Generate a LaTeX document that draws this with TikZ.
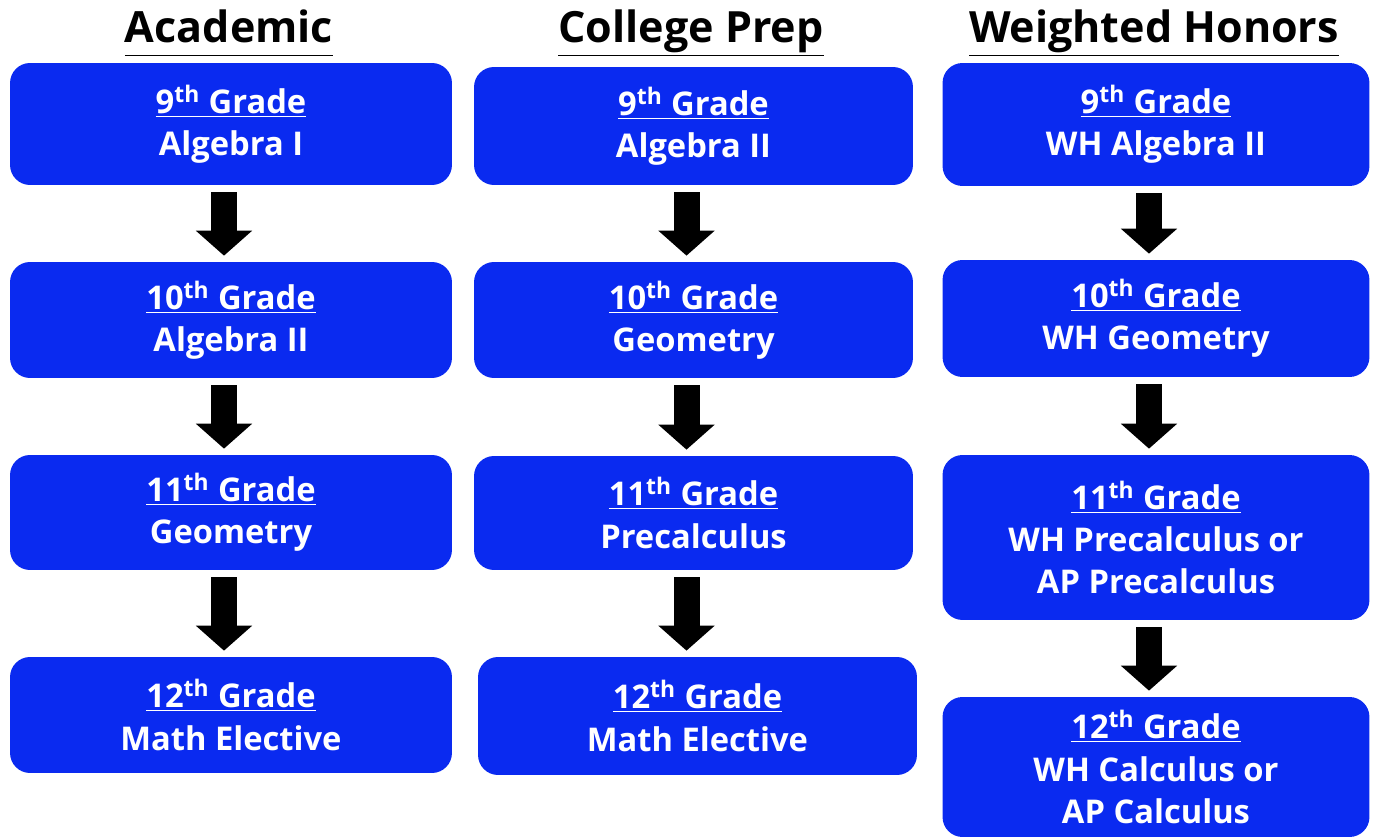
\documentclass[tikz,border=0pt]{standalone}
\usepackage{fontspec}
\setmainfont{Open Sans}
\usepackage{tikz}
\usetikzlibrary{arrows.meta}
\definecolor{trackblue}{RGB}{10,42,240}
\newcommand{\grade}[1]{\underline{#1\textsuperscript{th} Grade}}

\begin{document}
\begin{tikzpicture}[
  x=0.02cm, y=-0.02cm,
  track/.style={font=\fontsize{24.5}{29}\selectfont\bfseries, anchor=base, inner sep=0pt},
  course/.style={rounded corners=0.4cm, fill=trackblue, text=white, align=center, inner sep=0pt,
    font=\fontsize{18.6}{24}\selectfont\bfseries},
  acad/.style={course, minimum width=8.84cm},
  prep/.style={course, minimum width=8.78cm},
  honors/.style={course, minimum width=8.54cm},
  flow/.style={line width=0.52cm, -{Triangle[width=1.1cm,length=0.5cm]},
    shorten <=0.14cm, shorten >=0.12cm},
]
\useasboundingbox (0,0) rectangle (1374,837);

% Track headings
\node[track] (tA) at (229,43) {\underline{\vphantom{g}Academic}};
\node[track] (tP) at (691,43) {\underline{College Prep}};
\node[track] (tH) at (1154,43) {\underline{Weighted Honors}};

% Academic
\node[acad, minimum height=2.44cm] (a1) at (231,124) {\grade{9}\\Algebra I};
\node[acad, minimum height=2.32cm] (a2) at (231,320) {\grade{10}\\Algebra II};
\node[acad, minimum height=2.30cm] (a3) at (231,512.5) {\grade{11}\\Geometry};
\node[acad, minimum height=2.32cm] (a4) at (231,715) {\grade{12}\\Math Elective};

% College Prep
\node[prep, minimum height=2.36cm] (p1) at (693.5,126) {\grade{9}\\Algebra II};
\node[prep, minimum height=2.32cm] (p2) at (693.5,320) {\grade{10}\\Geometry};
\node[prep, minimum height=2.28cm] (p3) at (693.5,513) {\grade{11}\\Precalculus};
\node[prep, minimum height=2.36cm] (p4) at (697.5,716) {\grade{12}\\Math Elective};

% Weighted Honors
\node[honors, minimum height=2.46cm] (h1) at (1156,124.5) {\grade{9}\\WH Algebra II};
\node[honors, minimum height=2.34cm] (h2) at (1156,318.5) {\grade{10}\\WH Geometry};
\node[honors, minimum height=3.30cm] (h3) at (1156,537.5) {\grade{11}\\WH Precalculus or\\AP Precalculus};
\node[honors, minimum height=2.80cm] (h4) at (1156,767) {\grade{12}\\WH Calculus or\\AP Calculus};

% Arrows between grades
\foreach \a/\b in {a1/a2,a2/a3,a3/a4,p1/p2,p2/p3,p3/p4,h1/h2,h2/h3,h3/h4}{
  \draw[flow] ([xshift=-0.14cm]\a.south) -- ([xshift=-0.14cm]\a.south |- \b.north);
}
\end{tikzpicture}
\end{document}
